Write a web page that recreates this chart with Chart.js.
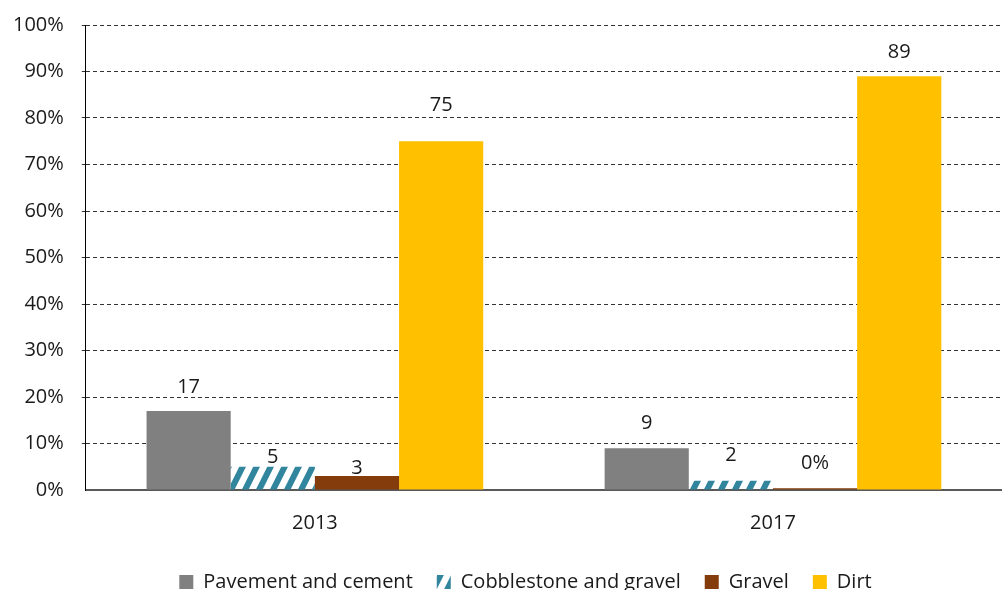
<!DOCTYPE html>
<html>
<head>
<meta charset="utf-8">
<script src="https://cdn.jsdelivr.net/npm/chart.js@4"></script>
<style>
  html, body { margin: 0; padding: 0; background: #fff; }
  #wrap { width: 1002px; height: 590px; }
</style>
</head>
<body>
<div id="wrap"><canvas id="roads"></canvas></div>
<script>
// tipos de superfície das vias, % por ano
const years = ['2013', '2017']
const pavement    = [17, 9]
const cobblestone = [5, 2]
const gravel      = [3, 0.4]
const dirt        = [75, 89]
const yTicks = [0, 10, 20, 30, 40, 50, 60, 70, 80, 90, 100]

// texto que vai em cima de cada barra
const pavementLabels    = ['17', '9']
const cobblestoneLabels = ['5', '2']
const gravelLabels      = ['3', '0%']
const dirtLabels        = ['75', '89']

const FONT = "'Open Sans', 'Noto Sans', sans-serif"
Chart.defaults.font.family = FONT
Chart.defaults.font.size = 20
Chart.defaults.color = '#1a1a1a'

// listras inclinadas para "Cobblestone and gravel"
function hatch(color) {
    const c = document.createElement('canvas')
    c.width = 14
    c.height = 28
    const g = c.getContext('2d')
    g.strokeStyle = color
    g.lineWidth = 6
    g.beginPath()
    for (let k = -1; k <= 1; k++) {
        g.moveTo(k * 14 - 2, 32)
        g.lineTo(k * 14 + 16, -4)
    }
    g.stroke()
    return g.createPattern(c, 'repeat')
}

const barLabels = {
    id: 'barLabels',
    afterDatasetsDraw(chart) {
        const ctx = chart.ctx
        ctx.save()
        ctx.font = '20px ' + FONT
        ctx.fillStyle = '#1a1a1a'
        ctx.textAlign = 'center'
        ctx.textBaseline = 'middle'
        chart.data.datasets.forEach((ds, i) => {
            chart.getDatasetMeta(i).data.forEach((bar, j) => {
                ctx.fillText(ds.labels[j], bar.x, bar.y - ds.labelLift[j])
            })
        })
        ctx.restore()
    }
}

// legenda um pouco deslocada para a direita
const legendShift = {
    id: 'legendShift',
    afterLayout(chart) {
        chart.legend.left += 27
        chart.legend.right += 27
    }
}

const ctx = document.getElementById('roads').getContext('2d')

new Chart(ctx, {
    type: 'bar',
    data: {
        labels: years,
        datasets: [
            { label: 'Pavement and cement', data: pavement, labels: pavementLabels, labelLift: [24, 25],
              backgroundColor: '#808080' },
            { label: 'Cobblestone and gravel', data: cobblestone, labels: cobblestoneLabels, labelLift: [9, 25],
              backgroundColor: hatch('#31859c') },
            { label: 'Gravel', data: gravel, labels: gravelLabels, labelLift: [8, 25],
              backgroundColor: '#843c0c' },
            { label: 'Dirt', data: dirt, labels: dirtLabels, labelLift: [36, 24],
              backgroundColor: '#ffc000' }
        ]
    },
    options: {
        responsive: true,
        maintainAspectRatio: false,
        animation: false,
        categoryPercentage: 0.735,
        barPercentage: 1,
        layout: { padding: { top: 5, right: 0, left: -5, bottom: -12 } },
        plugins: {
            legend: {
                position: 'bottom',
                labels: {
                    boxWidth: 14,
                    boxHeight: 14,
                    padding: 24,
                    font: { size: 20 }
                }
            },
            tooltip: { enabled: false }
        },
        scales: {
            x: {
                grid: { display: false },
                border: { color: '#595959', width: 2 },
                ticks: { padding: 13 }
            },
            y: {
                min: 0,
                max: 100,
                afterBuildTicks: axis => { axis.ticks = yTicks.map(v => ({ value: v })) },
                afterFit: axis => { axis.paddingTop = 25 },
                ticks: { callback: v => v + '%', padding: 18 },
                grid: {
                    color: c => c.tick && c.tick.value === 0 ? 'rgba(0,0,0,0)' : '#333',
                    tickLength: 4,
                    lineWidth: 1
                },
                border: { color: '#000', width: 1, dash: [4, 3] }
            }
        }
    },
    plugins: [barLabels, legendShift]
})
</script>
</body>
</html>
